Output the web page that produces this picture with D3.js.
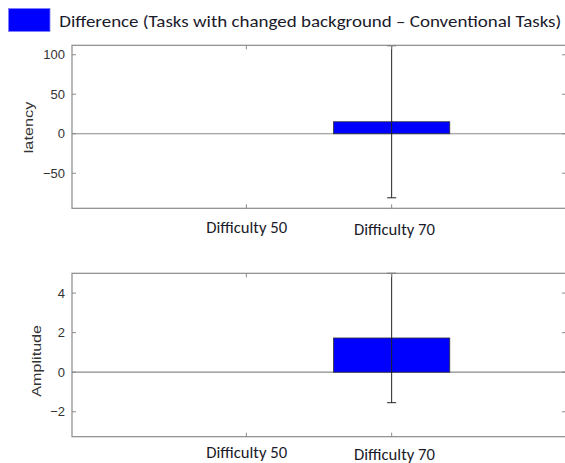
<!DOCTYPE html>
<html>
<head>
<meta charset="utf-8">
<script src="https://cdn.jsdelivr.net/npm/d3@7"></script>
<style>
  html, body { margin: 0; padding: 0; background: #fff; }
  svg { display: block; }
</style>
</head>
<body>
<script>
// Categories and per-panel values (mean difference and error half-width)
const categories = ["Difficulty 50", "Difficulty 70"];
const latencyMean = [0, 15.2];
const latencyErr = [null, 96.3];
const amplitudeMean = [0, 1.73];
const amplitudeErr = [null, 3.27];
const latencyTicks = [100, 50, 0, -50];
const amplitudeTicks = [4, 2, 0, -2];
const legendLabel = "Difference (Tasks with changed background \u2013 Conventional Tasks)";

const W = 565, H = 463;
const svg = d3.select("body").append("svg").attr("width", W).attr("height", H);

const axisColor = "#8a8a8a";
const tickTextColor = "#333";
const labelFont = "Carlito, Lato, 'Open Sans', sans-serif";

// Legend
svg.append("rect")
  .attr("x", 8.5).attr("y", 8.5).attr("width", 41.5).attr("height", 23)
  .attr("fill", "#0000ff").attr("stroke", "#7f7fff").attr("stroke-width", 0.8);
svg.append("text")
  .attr("x", 59.3).attr("y", 26.7)
  .attr("font-family", labelFont).attr("font-size", 16.5)
  .attr("fill", "#1a1a2a")
  .attr("textLength", 502).attr("lengthAdjust", "spacingAndGlyphs")
  .text(legendLabel);

const x = d3.scaleLinear().domain([-1.2, 2.2]).range([72, 566]);
const barW = x(0.8) - x(0);

function panel(opts) {
  const { top, bottom, domain, means, errs, ticks, yLabel, yLabelX, yLabelY, yLabelLen, labelBase } = opts;
  const y = d3.scaleLinear().domain(domain).range([bottom, top]);
  const g = svg.append("g");

  // zero baseline
  g.append("line")
    .attr("x1", x.range()[0]).attr("x2", x.range()[1])
    .attr("y1", y(0)).attr("y2", y(0))
    .attr("stroke", axisColor).attr("stroke-width", 1.2);

  // bars
  g.selectAll("rect.bar").data(means).join("rect")
    .attr("class", "bar")
    .attr("x", (d, i) => x(i) - barW / 2)
    .attr("width", barW)
    .attr("y", d => Math.min(y(d), y(0)))
    .attr("height", d => Math.abs(y(d) - y(0)))
    .attr("fill", "#0000ff")
    .attr("stroke", "#333").attr("stroke-width", 0.8);

  // error bars
  const eb = means.map((m, i) => ({ i, m, e: errs[i] })).filter(d => d.e != null);
  const cap = 4.5;
  eb.forEach(d => {
    const cx = x(d.i), y1 = y(d.m + d.e), y2 = y(d.m - d.e);
    g.append("line").attr("x1", cx).attr("x2", cx).attr("y1", y1).attr("y2", y2)
      .attr("stroke", "#222").attr("stroke-width", 1);
    [y1, y2].forEach(yy => g.append("line")
      .attr("x1", cx - cap).attr("x2", cx + cap).attr("y1", yy).attr("y2", yy)
      .attr("stroke", "#222").attr("stroke-width", 1));
  });

  // left axis with inward ticks
  const left = d3.axisLeft(y).tickValues(ticks).tickSize(0).tickPadding(7);
  const ga = g.append("g").attr("transform", `translate(${x.range()[0]},0)`).call(left);
  ga.select(".domain").remove();
  ga.selectAll("text").attr("font-family", "'Liberation Sans', Arial, sans-serif")
    .attr("font-size", 13).attr("fill", tickTextColor);
  ticks.forEach(t => {
    g.append("line").attr("x1", x.range()[0]).attr("x2", x.range()[0] + 4)
      .attr("y1", y(t)).attr("y2", y(t)).attr("stroke", axisColor);
    g.append("line").attr("x1", x.range()[1] - 4).attr("x2", x.range()[1])
      .attr("y1", y(t)).attr("y2", y(t)).attr("stroke", axisColor);
  });
  // category ticks top and bottom
  categories.forEach((c, i) => {
    g.append("line").attr("x1", x(i)).attr("x2", x(i))
      .attr("y1", bottom).attr("y2", bottom - 4).attr("stroke", axisColor);
    g.append("line").attr("x1", x(i)).attr("x2", x(i))
      .attr("y1", top).attr("y2", top + 4).attr("stroke", axisColor);
  });

  // box
  g.append("rect")
    .attr("x", x.range()[0]).attr("y", top)
    .attr("width", x.range()[1] - x.range()[0]).attr("height", bottom - top)
    .attr("fill", "none").attr("stroke", axisColor).attr("stroke-width", 1.2);

  // category labels
  categories.forEach((c, i) => {
    g.append("text")
      .attr("x", x(i) + (i === 0 ? 0.3 : 2.8))
      .attr("y", labelBase + i * 1.5)
      .attr("text-anchor", "middle")
      .attr("font-family", labelFont).attr("font-size", 15.5)
      .attr("fill", "#1a1a2a")
      .attr("textLength", 81).attr("lengthAdjust", "spacingAndGlyphs")
      .text(c);
  });

  // y axis title
  g.append("text")
    .attr("transform", `translate(${yLabelX},${yLabelY}) rotate(-90)`)
    .attr("text-anchor", "middle")
    .attr("font-family", "'Liberation Sans', Arial, sans-serif")
    .attr("font-size", 13).attr("fill", tickTextColor)
    .attr("textLength", yLabelLen).attr("lengthAdjust", "spacingAndGlyphs")
    .text(yLabel);
}

panel({
  top: 45.3, bottom: 208.3, domain: [-94.4, 112],
  means: latencyMean, errs: latencyErr, ticks: latencyTicks,
  yLabel: "latency", yLabelX: 32.8, yLabelY: 127.5, yLabelLen: 51.6, labelBase: 233
});
panel({
  top: 273.3, bottom: 436.7, domain: [-3.26, 5],
  means: amplitudeMean, errs: amplitudeErr, ticks: amplitudeTicks,
  yLabel: "Amplitude", yLabelX: 41.2, yLabelY: 360.8, yLabelLen: 71.7, labelBase: 458.3
});
</script>
</body>
</html>
